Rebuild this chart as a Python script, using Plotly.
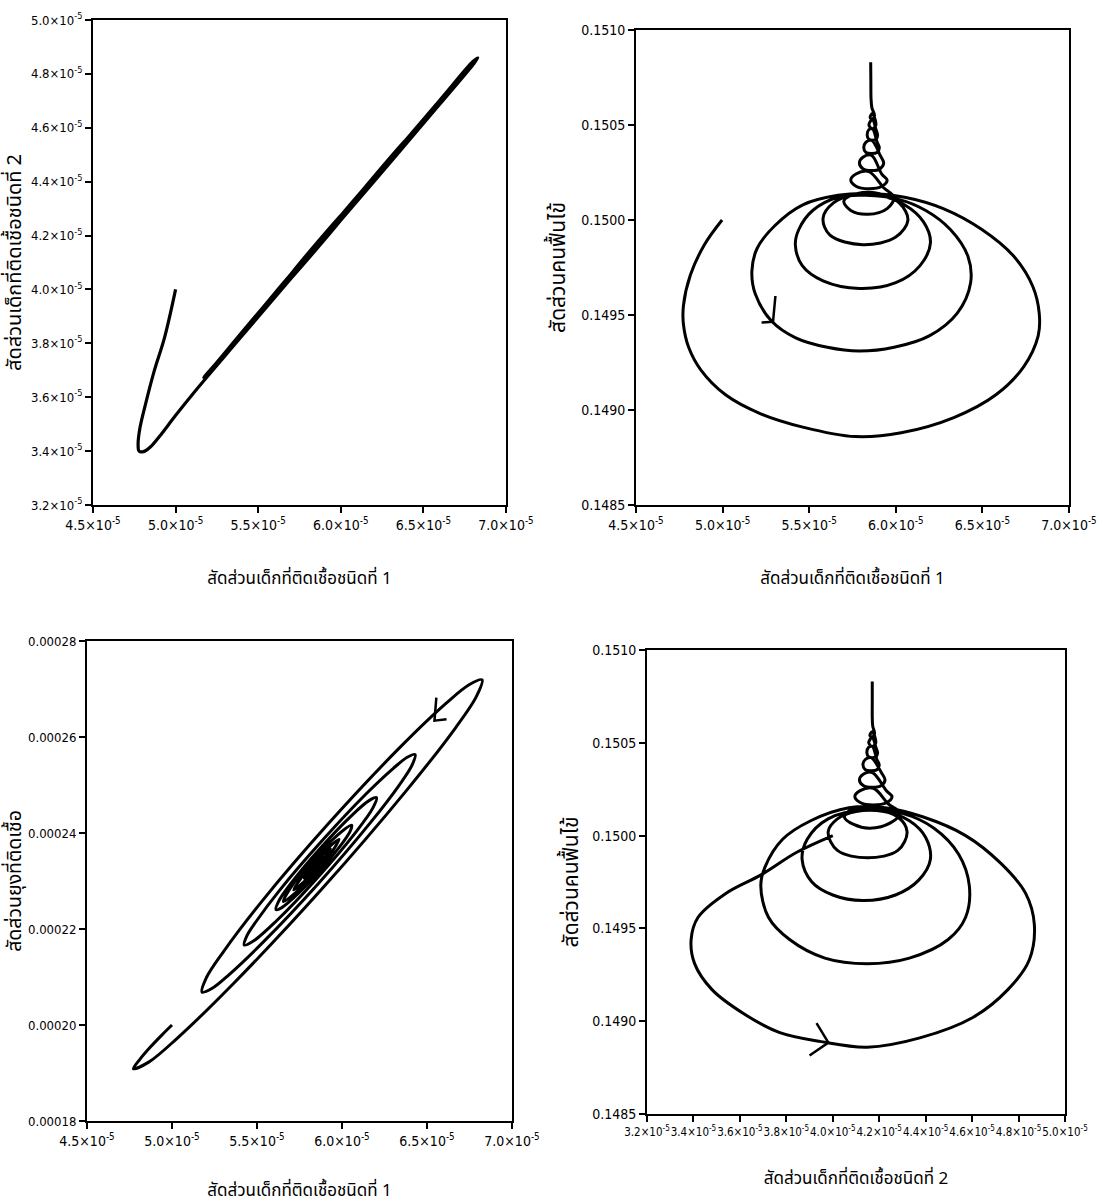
import numpy as np
import plotly.graph_objects as go

E5 = 1e-5  # values of infected-children / mosquito series are stored in units of 1e-5

# ---------------- Top-left: type-1 vs type-2 infected children (x1e-5) ----------------
tl_x = [5.00, 4.933, 4.869, 4.815, 4.783, 4.773, 4.779,
        4.805, 4.847, 4.911, 4.997, 5.124, 5.40, 5.80, 6.20, 6.60, 6.80, 6.829,
        6.80, 6.60, 6.20, 5.80, 5.40, 5.22, 5.17,
        5.22, 5.40, 5.80, 6.20, 6.40, 6.43,
        6.40, 6.00, 5.60, 5.45, 5.42,
        5.45, 5.80, 6.18, 6.20,
        6.18, 5.80, 5.63, 5.61,
        5.63, 6.04, 6.06,
        6.04, 5.68, 5.66,
        5.72, 5.98, 5.93, 5.78, 5.89, 5.81, 5.87, 5.85]
tl_y = [4.00, 3.821, 3.694, 3.567, 3.482, 3.426, 3.400,
        3.398, 3.415, 3.461, 3.530, 3.627, 3.826, 4.114, 4.400, 4.688, 4.834, 4.859,
        4.846, 4.703, 4.416, 4.130, 3.840, 3.708, 3.674,
        3.700, 3.830, 4.115, 4.401, 4.545, 4.573,
        4.559, 4.273, 3.986, 3.874, 3.852,
        3.868, 4.116, 4.388, 4.408,
        4.400, 4.128, 4.004, 3.987,
        3.996, 4.288, 4.308,
        4.300, 4.042, 4.021,
        4.064, 4.250, 4.215, 4.107, 4.186, 4.129, 4.172, 4.157]

# ---------------- Top-right: type-1 infected children (x1e-5) vs recovered ----------------
tr_x = [4.997, 4.895, 4.814, 4.774, 4.774, 4.804, 4.875, 5.017, 5.220, 5.463, 5.767,
        6.031, 6.335, 6.578, 6.740, 6.822, 6.828, 6.791, 6.680, 6.497, 6.274, 6.051,
        5.828, 5.666,
        5.463, 5.301, 5.199, 5.169, 5.189, 5.281, 5.422, 5.605, 5.787, 5.990, 6.193,
        6.355, 6.432, 6.416, 6.315, 6.173, 6.011, 5.828, 5.666,
        5.52, 5.44, 5.42, 5.46, 5.58, 5.79, 6.00, 6.14, 6.20, 6.16, 6.05, 5.90, 5.75,
        5.64, 5.58, 5.62, 5.81, 6.00, 6.07, 6.02, 5.90, 5.78,
        5.70, 5.74, 5.84, 5.95, 5.99, 5.93,
        5.845, 5.77, 5.74, 5.77, 5.845, 5.92, 5.95, 5.92,
        5.86, 5.81, 5.79, 5.81, 5.86, 5.91, 5.93, 5.91,
        5.86, 5.828, 5.815, 5.828, 5.86, 5.892, 5.905, 5.892,
        5.865, 5.844, 5.835, 5.844, 5.865, 5.886, 5.895, 5.886,
        5.865, 5.845, 5.865, 5.885,
        5.865, 5.852, 5.865, 5.877, 5.862, 5.857, 5.856, 5.855]
tr_y = [0.15000, 0.14987, 0.14971, 0.14955, 0.14945, 0.14933, 0.14921, 0.14908, 0.14898,
        0.14891, 0.14886, 0.14888, 0.14896, 0.14908, 0.14923, 0.14939, 0.14951, 0.14965,
        0.14981, 0.14995, 0.15006, 0.15012, 0.15014, 0.15013,
        0.15008, 0.14997, 0.14985, 0.14973, 0.14961, 0.14947, 0.14938, 0.14933, 0.14931,
        0.14933, 0.14939, 0.14951, 0.14967, 0.14981, 0.14995, 0.15005, 0.15011, 0.15013,
        0.15012,
        0.15005, 0.14995, 0.14987, 0.14976, 0.14968, 0.14964, 0.14967, 0.14976, 0.14988,
        0.14999, 0.15008, 0.15013, 0.15013,
        0.15009, 0.15001, 0.14992, 0.14987, 0.14991, 0.15000, 0.15009, 0.15014, 0.15014,
        0.15010, 0.15005, 0.15003, 0.15006, 0.15012, 0.15017,
        0.150255, 0.150242, 0.15021, 0.150178, 0.150165, 0.150178, 0.15021, 0.15024,
        0.15034, 0.15033, 0.15030, 0.15027, 0.15026, 0.15027, 0.15030, 0.15034,
        0.15042, 0.15041, 0.15038, 0.150355, 0.15035, 0.150355, 0.15038, 0.15041,
        0.15048, 0.150475, 0.150445, 0.150425, 0.15042, 0.150425, 0.150445, 0.150475,
        0.15053, 0.15050, 0.15048, 0.15050,
        0.15056, 0.15054, 0.15053, 0.15055, 0.15059, 0.15064, 0.15072, 0.15083]

# ---------------- Bottom-left: type-1 infected children (x1e-5) vs infected mosquitoes (x1e-5) ----------------
bl_x = [5.00, 4.94, 4.87, 4.81, 4.773,
        4.863, 5.027, 5.356, 5.880, 6.381, 6.668, 6.790, 6.824,
        6.750, 6.615, 6.348, 5.927, 5.525, 5.299, 5.201, 5.177,
        5.234, 5.336, 5.539, 5.860, 6.166, 6.339, 6.412, 6.430,
        6.384, 6.302, 6.138, 5.881, 5.635, 5.498, 5.439, 5.425,
        5.481, 5.612, 5.852, 6.078, 6.181, 6.203,
        6.159, 6.058, 5.875, 5.704, 5.627, 5.612,
        5.646, 5.722, 5.861, 5.989, 6.047, 6.057,
        5.959, 5.834, 5.717, 5.655,
        5.735, 5.837, 5.931, 5.983,
        5.835, 5.716,
        5.836, 5.932,
        5.846, 5.778,
        5.840, 5.891,
        5.809, 5.860, 5.840]
bl_y = [20.00, 19.79, 19.53, 19.28, 19.09,
        19.226, 19.712, 20.844, 22.827, 24.894, 26.192, 26.840, 27.19,
        27.093, 26.711, 25.809, 24.223, 22.561, 21.510, 20.977, 20.686,
        20.760, 21.051, 21.736, 22.944, 24.211, 25.010, 25.413, 25.635,
        25.578, 25.347, 24.801, 23.832, 22.816, 22.172, 21.847, 21.666,
        21.755, 22.161, 23.053, 24.003, 24.517, 24.736,
        24.674, 24.369, 23.694, 22.969, 22.575, 22.403,
        22.446, 22.672, 23.179, 23.727, 24.028, 24.161,
        23.911, 23.452, 22.959, 22.573,
        22.777, 23.153, 23.555, 23.869,
        23.400, 22.816,
        23.195, 23.667,
        23.397, 23.059,
        23.259, 23.505,
        23.181, 23.383, 23.302]

# ---------------- Bottom-right: type-2 infected children (x1e-5) vs recovered ----------------
br_x = [4.00, 3.845, 3.693, 3.541, 3.42, 3.39, 3.405, 3.48, 3.617, 3.769, 3.95, 4.148,
        4.375, 4.603, 4.754, 4.846, 4.868, 4.83, 4.724, 4.572, 4.39, 4.224, 4.07,
        3.905, 3.784, 3.708, 3.69, 3.723, 3.814, 3.966, 4.148, 4.33, 4.497, 4.572,
        4.588, 4.542, 4.436, 4.30, 4.15,
        3.98, 3.89, 3.868, 3.91, 4.00, 4.13, 4.27, 4.37, 4.42, 4.40, 4.33, 4.22, 4.10,
        4.02, 3.98, 4.02, 4.15, 4.28, 4.32, 4.28, 4.18, 4.08,
        4.05, 4.09, 4.16, 4.25, 4.29, 4.24,
        4.175, 4.118, 4.095, 4.118, 4.175, 4.232, 4.255, 4.232,
        4.17, 4.131, 4.115, 4.131, 4.17, 4.209, 4.225, 4.209,
        4.165, 4.14, 4.13, 4.14, 4.165, 4.19, 4.20, 4.19,
        4.17, 4.154, 4.147, 4.154, 4.17, 4.186, 4.193, 4.186,
        4.17, 4.155, 4.17, 4.185,
        4.17, 4.16, 4.17, 4.18, 4.172, 4.17, 4.17, 4.17]
br_y = [0.15000, 0.14991, 0.14979, 0.14969, 0.14956, 0.14944, 0.14931, 0.14917, 0.14904,
        0.14894, 0.14889, 0.14886, 0.14891, 0.14902, 0.14917, 0.14933, 0.14952, 0.14969,
        0.14985, 0.15000, 0.15010, 0.15015, 0.15015,
        0.15008, 0.14998, 0.14983, 0.14973, 0.14956, 0.14944, 0.14934, 0.14931, 0.14934,
        0.14944, 0.14956, 0.14973, 0.14990, 0.15004, 0.15012, 0.15014,
        0.15009, 0.14998, 0.14987, 0.14975, 0.14968, 0.14965, 0.14968, 0.14976, 0.14987,
        0.14999, 0.15008, 0.15013, 0.15013,
        0.15009, 0.15002, 0.14992, 0.14988, 0.14992, 0.15002, 0.15010, 0.15014, 0.15014,
        0.15010, 0.15006, 0.15004, 0.15007, 0.15012, 0.15017,
        0.150255, 0.150242, 0.15021, 0.150178, 0.150165, 0.150178, 0.15021, 0.15024,
        0.15034, 0.15033, 0.15030, 0.15027, 0.15026, 0.15027, 0.15030, 0.15034,
        0.15042, 0.15041, 0.15038, 0.150355, 0.15035, 0.150355, 0.15038, 0.15041,
        0.15048, 0.150475, 0.150445, 0.150425, 0.15042, 0.150425, 0.150445, 0.150475,
        0.15053, 0.15050, 0.15048, 0.15050,
        0.15056, 0.15054, 0.15053, 0.15055, 0.15059, 0.15064, 0.15072, 0.15083]

# direction arrows (open chevrons): barb, tip, barb
tr_arrow_x = [5.305, 5.291, 5.225]
tr_arrow_y = [0.149600, 0.149464, 0.149460]
bl_arrow_x = [6.555, 6.544, 6.615]
bl_arrow_y = [26.82, 26.34, 26.37]
br_arrow_x = [3.930, 3.981, 3.900]
br_arrow_y = [0.148990, 0.148885, 0.148815]

# ---------------- tick definitions ----------------
x1_ticks = [4.5, 5.0, 5.5, 6.0, 6.5, 7.0]
x1_text = ["4.5×10<sup>-5</sup>", "5.0×10<sup>-5</sup>", "5.5×10<sup>-5</sup>",
           "6.0×10<sup>-5</sup>", "6.5×10<sup>-5</sup>", "7.0×10<sup>-5</sup>"]
x2_ticks = [3.2, 3.4, 3.6, 3.8, 4.0, 4.2, 4.4, 4.6, 4.8, 5.0]
x2_text = ["3.2×10<sup>-5</sup>", "3.4×10<sup>-5</sup>", "3.6×10<sup>-5</sup>",
           "3.8×10<sup>-5</sup>", "4.0×10<sup>-5</sup>", "4.2×10<sup>-5</sup>",
           "4.4×10<sup>-5</sup>", "4.6×10<sup>-5</sup>", "4.8×10<sup>-5</sup>",
           "5.0×10<sup>-5</sup>"]
r_ticks = [0.1485, 0.1490, 0.1495, 0.1500, 0.1505, 0.1510]
r_text = ["0.1485", "0.1490", "0.1495", "0.1500", "0.1505", "0.1510"]
m_ticks = [18, 20, 22, 24, 26, 28]
m_text = ["0.00018", "0.00020", "0.00022", "0.00024", "0.00026", "0.00028"]

title_x1 = "สัดส่วนเด็กที่ติดเชื้อชนิดที่ 1"
title_x2 = "สัดส่วนเด็กที่ติดเชื้อชนิดที่ 2"
title_y_tl = "สัดส่วนเด็กที่ติดเชื้อชนิดที่ 2"
title_r = "สัดส่วนคนฟื้นไข้"
title_m = "สัดส่วนยุงที่ติดเชื้อ"

TICK_FONT = "DejaVu Sans Condensed, Liberation Sans Narrow, Arial Narrow, sans-serif"
THAI_FONT = "Noto Sans Thai, Noto Serif Thai, Loma, Garuda, Norasi, Kinnari, Noto Sans, DejaVu Sans, sans-serif"

fig = go.Figure()

def curve(x, y, xa, ya, scale_x=E5, scale_y=1.0, shape="spline", width=3):
    fig.add_trace(go.Scatter(
        x=np.array(x) * scale_x, y=np.array(y) * scale_y, mode="lines",
        line=dict(color="black", width=width, shape=shape, smoothing=1.0),
        xaxis=xa, yaxis=ya, showlegend=False, hoverinfo="skip"))

curve(tl_x, tl_y, "x", "y", E5, E5, width=3.2)
curve(tr_x, tr_y, "x2", "y2", E5, 1.0)
curve(bl_x, bl_y, "x3", "y3", E5, E5)
curve(br_x, br_y, "x4", "y4", E5, 1.0)
curve(tr_arrow_x, tr_arrow_y, "x2", "y2", E5, 1.0, "linear", 2.5)
curve(bl_arrow_x, bl_arrow_y, "x3", "y3", E5, E5, "linear", 2.5)
curve(br_arrow_x, br_arrow_y, "x4", "y4", E5, 1.0, "linear", 2.5)

def axis(domain, rng, tickvals, ticktext, title, tsize=14, title_size=17, standoff=18):
    return dict(domain=domain, range=rng, tickvals=tickvals, ticktext=ticktext,
                automargin=False, tickangle=0,
                showline=True, linecolor="black", linewidth=2, mirror=True,
                ticks="outside", ticklen=6, tickwidth=1.5, tickcolor="black",
                showgrid=False, zeroline=False,
                tickfont=dict(family=TICK_FONT, size=tsize, color="black"),
                title=dict(text=title, font=dict(family=THAI_FONT, size=title_size, color="black"),
                           standoff=standoff))

W, H = 1099, 1204
def dx(a, b):
    return [a / W, b / W]
def dy(top, bottom):
    return [1 - bottom / H, 1 - top / H]

fig.update_layout(
    width=W, height=H, margin=dict(l=0, r=0, t=0, b=0, autoexpand=False),
    paper_bgcolor="white", plot_bgcolor="white", showlegend=False,
    xaxis=axis(dx(93, 506), [4.5 * E5, 7.0 * E5], [v * E5 for v in x1_ticks], x1_text, title_x1,
               standoff=40),
    yaxis=axis(dy(20, 505), [3.2 * E5, 5.0 * E5], [v * E5 for v in x2_ticks], x2_text, title_y_tl,
               tsize=13, title_size=20, standoff=8),
    xaxis2=axis(dx(636, 1069), [4.5 * E5, 7.0 * E5], [v * E5 for v in x1_ticks], x1_text, title_x1,
                standoff=40),
    yaxis2=axis(dy(30, 505), [0.1485, 0.1510], r_ticks, r_text, title_r, title_size=21,
                standoff=10),
    xaxis3=axis(dx(87, 512), [4.5 * E5, 7.0 * E5], [v * E5 for v in x1_ticks], x1_text, title_x1,
                standoff=38),
    yaxis3=axis(dy(641, 1121), [18 * E5, 28 * E5], [v * E5 for v in m_ticks], m_text, title_m,
                tsize=13, title_size=19.5, standoff=6),
    xaxis4=axis(dx(647, 1065), [3.2 * E5, 5.0 * E5], [v * E5 for v in x2_ticks], x2_text, title_x2,
                tsize=11.5, standoff=34),
    yaxis4=axis(dy(650, 1114), [0.1485, 0.1510], r_ticks, r_text, title_r, title_size=21,
                standoff=8),
)
for i in ["", "2", "3", "4"]:
    fig.layout["xaxis" + i].anchor = "y" + i
    fig.layout["yaxis" + i].anchor = "x" + i

fig.write_html("out.html")
